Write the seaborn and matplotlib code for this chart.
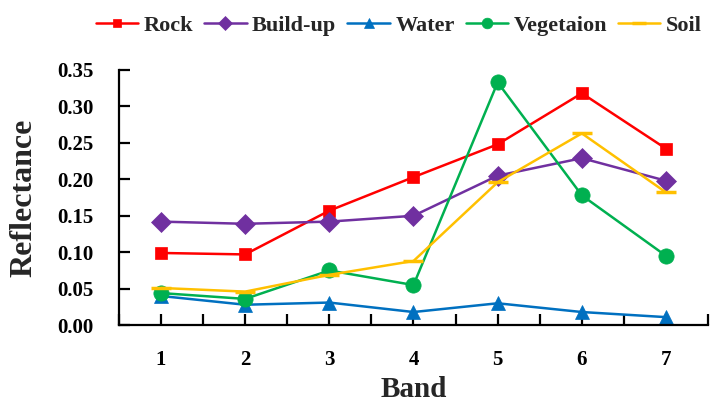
import numpy as np
import pandas as pd
import matplotlib
matplotlib.use("Agg")
import matplotlib.pyplot as plt
import seaborn as sns

bands = [1, 2, 3, 4, 5, 6, 7]
rock = [0.099, 0.097, 0.157, 0.203, 0.248, 0.318, 0.242]
build_up = [0.142, 0.139, 0.142, 0.150, 0.205, 0.229, 0.198]
water = [0.040, 0.028, 0.031, 0.018, 0.030, 0.018, 0.011]
vegetation = [0.044, 0.036, 0.075, 0.055, 0.333, 0.178, 0.095]
soil = [0.051, 0.046, 0.069, 0.088, 0.196, 0.263, 0.182]

names = ["Rock", "Build-up", "Water", "Vegetaion", "Soil"]
colors = ["#FF0000", "#7030A0", "#0070C0", "#00B050", "#FFC000"]
markers = ["s", "D", "^", "o", "_"]

series = [rock, build_up, water, vegetation, soil]
df = pd.DataFrame({
    "Band": np.tile(bands, len(names)),
    "Reflectance": np.concatenate(series),
    "Class": np.repeat(names, len(bands)),
})

sns.set_theme(style="ticks")
plt.rcParams["font.family"] = ["Liberation Serif", "DejaVu Serif"]
plt.rcParams["font.weight"] = "bold"

fig = plt.figure(figsize=(7.16, 4.09), dpi=100)
ax = fig.add_axes([0.166, 0.205, 0.823, 0.624])

sizes = {"Rock": 9, "Build-up": 10, "Water": 10, "Vegetaion": 11, "Soil": 14}
for name, color, mk in zip(names, colors, markers):
    sub = df[df["Class"] == name]
    sns.lineplot(data=sub, x="Band", y="Reflectance", ax=ax, color=color,
                 marker=mk, markersize=sizes[name], markeredgecolor=color,
                 markeredgewidth=2.5 if mk == "_" else 0.5,
                 linewidth=1.8, label=name, legend=False)

ax.set_xlim(0.5, 7.5)
ax.set_ylim(0, 0.35)
ticks = np.arange(0.5, 7.51, 0.5)
ax.set_xticks(ticks)
ax.set_xticklabels([str(int(t)) if t == int(t) else "" for t in ticks])
yt = np.arange(0, 0.351, 0.05)
ax.set_yticks(yt)
ax.set_yticklabels([f"{v:.2f}" for v in yt])
ax.tick_params(axis="both", which="major", direction="in", length=8,
               width=1.6, color="black", labelsize=15, labelcolor="black",
               pad=18, bottom=True, left=True)
for s in ["top", "right"]:
    ax.spines[s].set_visible(False)
for s in ["left", "bottom"]:
    ax.spines[s].set_color("black")
    ax.spines[s].set_linewidth(1.6)
for lbl in ax.get_xticklabels() + ax.get_yticklabels():
    lbl.set_fontweight("bold")

ax.set_xlabel("Band", fontsize=21, fontweight="bold", labelpad=4)
ax.set_ylabel("Reflectance", fontsize=23, fontweight="bold", labelpad=14)

handles, labels = ax.get_legend_handles_labels()
fig.legend(handles, labels, loc="upper right", bbox_to_anchor=(1.008, 1.012),
           ncol=5, frameon=False, handlelength=1.9, markerscale=0.7,
           handletextpad=0.25, columnspacing=0.5,
           prop={"weight": "bold", "size": 16})

fig.savefig("out.png", dpi=100, facecolor="white")
